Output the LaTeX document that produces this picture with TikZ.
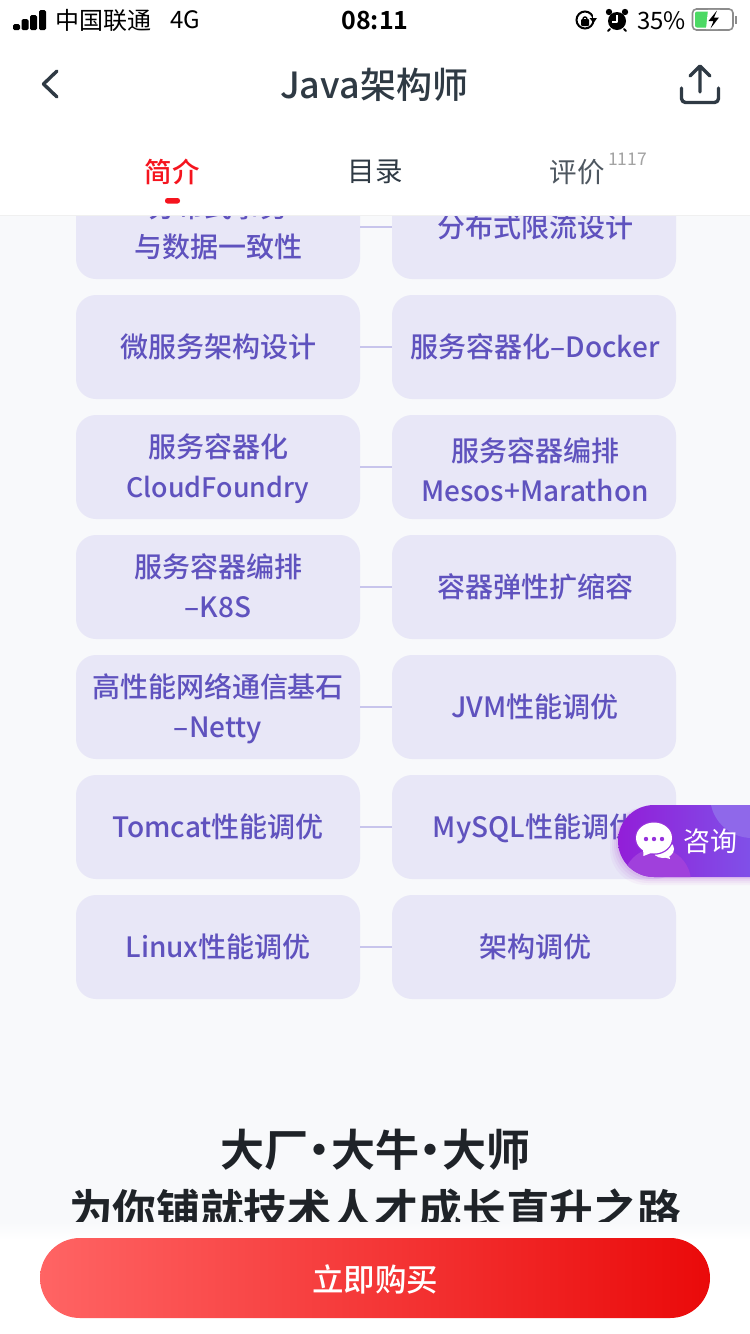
\documentclass[tikz,border=0pt]{standalone}
\usepackage{fontspec}
\setmainfont{Noto Sans CJK SC}
\newfontfamily\medfont{Noto Sans CJK SC Medium}
\newfontfamily\boldfnt{Noto Sans CJK SC Bold}
\usetikzlibrary{calc}
\definecolor{pagebg}{HTML}{F8F9FB}
\definecolor{cellbg}{HTML}{E8E7F7}
\definecolor{celltx}{HTML}{5F52BE}
\definecolor{cellln}{HTML}{C8C5EC}
\definecolor{ink}{HTML}{2F3A44}
\definecolor{redtab}{HTML}{F5141E}
\definecolor{graytx}{HTML}{A3A3A3}
\definecolor{dark}{HTML}{1F2328}
\definecolor{fabA}{HTML}{921ED8}
\definecolor{fabB}{HTML}{8050E8}
\definecolor{fabC}{HTML}{8F68EA}
\definecolor{fabD}{HTML}{A040DC}
\definecolor{fabE}{HTML}{9632DC}
\definecolor{fabS}{HTML}{AA3CD2}
\tikzset{
  cell/.style={draw=none,fill=cellbg,rounded corners=20pt,minimum width=284pt,minimum height=104pt,inner sep=0pt,outer sep=0pt},
  celltext/.style={text=celltx,font=\medfont\fontsize{28}{40}\selectfont,align=center,inner sep=0pt},
  link/.style={draw=cellln,line width=1.5pt,yshift=-0.7pt},
  plain/.style={inner sep=0pt,outer sep=0pt},
  iconline/.style={draw=ink,line width=3.4pt,line cap=round,line join=round},
}
\newcommand{\cs}{\rule[-9.5pt]{0pt}{40pt}}
\newcommand{\cellpair}[6]{%
  \node[cell] (#1L) at (218,#2) {};
  \node[cell] (#1R) at (534,#2) {};
  \draw[link] (#1L.east) -- (#1R.west);
  \node[celltext] (#1Lt) at ($(#1L.center)+(0,#5)$) {#3};
  \node[celltext] (#1Rt) at ($(#1R.center)+(1,#6)$) {#4};
}
\begin{document}
\begin{tikzpicture}[x=1pt,y=-1pt]
\useasboundingbox (0,0) rectangle (750,1334);
\fill[pagebg] (0,0) rectangle (750,1334);

\cellpair{a}{227}{\cs 分布式事务\\\cs 与数据一致性}{\cs 分布式限流设计}{0}{0}
\cellpair{b}{347}{\cs 微服务架构设计}{\cs 服务容器化–Docker}{0}{0}
\cellpair{c}{467}{\cs 服务容器化\\\cs {\fontsize{26.8}{40}\selectfont CloudFoundry}}{\cs 服务容器编排\\\cs Mesos+Marathon}{0}{4}
\cellpair{d}{587}{\cs 服务容器编排\\\cs –K8S}{\cs 容器弹性扩缩容}{0}{0}
\cellpair{e}{707}{\cs 高性能网络通信基石\\\cs –Netty}{\cs JVM性能调优}{0}{0}
\cellpair{f}{827}{\cs Tomcat性能调优}{\cs MySQL性能调优}{0}{0}
\cellpair{g}{947}{\cs Linux性能调优}{\cs 架构调优}{0}{0}

% heading
\node[plain,text=dark,font=\boldfnt\fontsize{44}{44}\selectfont] (h1) at (375,1150) {大厂\hspace{-10.5pt}·\hspace{-10.5pt}大牛\hspace{-10.5pt}·\hspace{-10.5pt}大师};
\node[plain,text=dark,font=\boldfnt\fontsize{43.7}{44}\selectfont] (h2) at (375,1210) {为你铺就技术人才成长直升之路};

% bottom bar
\shade[top color=pagebg,bottom color=white] (0,1222) rectangle (750,1240);
\fill[white] (0,1240) rectangle (750,1334);
\node[plain,minimum width=670pt,minimum height=80pt,rounded corners=40pt,left color={rgb,255:red,255;green,100;blue,100},right color={rgb,255:red,234;green,10;blue,10}] (buy) at (375,1278) {};
\node[plain,text=white,font=\medfont\fontsize{31.5}{32}\selectfont] (buyt) at (375,1279) {立即购买};

% header
\fill[white] (0,0) rectangle (750,215);
\draw[color=black!6,line width=1pt] (0,215.5) -- (750,215.5);

% status bar
\foreach \xx/\yy in {13/24,21.5/19,30/15,39/10}{
  \fill[black,rounded corners=1.5pt] (\xx,\yy) rectangle (\xx+7,30);
}
\node[plain,text=black,font=\fontsize{24}{24}\selectfont,anchor=west] (carrier) at (55,20) {中国联通};
\node[plain,text=black,font=\fontsize{24}{24}\selectfont,anchor=west] (net) at (170,20) {4G};
\node[plain,text=black,font=\boldfnt\fontsize{25}{26}\selectfont] (clock) at (375,20) {08:11};
% rotation lock
\draw[black,line width=2pt] (585,20) circle (8.5pt);
\fill[white] (593,14) rectangle (597,21);
\fill[black] (589.5,18) -- (597,18) -- (593.5,23) -- cycle;
\fill[black,rounded corners=1pt] (581,19) rectangle (589,26);
\draw[black,line width=1.4pt] (583,19) arc (180:0:2pt);
% alarm
\fill[black] (617,21) circle (9pt);
\fill[black] (609,12) circle (3.2pt);
\fill[black] (625,12) circle (3.2pt);
\draw[black,line width=2pt,line cap=round] (610,29) -- (608,31) (624,29) -- (626,31);
\draw[white,line width=1.4pt,line join=round] (617,15) -- (617,22) -- (612,22);
\node[plain,text=black,font=\fontsize{24}{26}\selectfont,anchor=west] (pct) at (637,21) {35\%};
% battery
\draw[draw=black!45,line width=1.6pt,rounded corners=4pt] (692.5,9) rectangle (733,30);
\fill[black!45] (735,15.5) rectangle (737,24);
\fill[color={rgb,255:red,76;green,217;blue,100},rounded corners=2pt] (695,11.5) rectangle (710,27.5);
\fill[white] (708,9.8) -- (720,9.8) -- (718,29) -- (706,29) -- cycle;
\fill[black] (717,10.5) -- (708.5,21) -- (713.5,21) -- (710.5,28.5) -- (719,17.5) -- (714,17.5) -- cycle;

% nav bar
\draw[draw=ink,line width=3.4pt,line cap=round,line join=round] (57,71) -- (43.5,84) -- (57,97);
\node[plain,text=ink,font=\medfont\fontsize{36}{36}\selectfont] (title) at (374,85) {Java架构师};
\draw[iconline] (700,92) -- (700,67) (690,76) -- (700,66) -- (710,76);
\draw[iconline,rounded corners=4pt] (681.5,88) -- (681.5,102.5) -- (718.5,102.5) -- (718.5,88);

% tabs
\node[plain,text=redtab,font=\medfont\fontsize{27.5}{28}\selectfont] (tab1) at (172,172) {简介};
\fill[redtab,rounded corners=2.5pt] (165,198) rectangle (180,203.5);
\node[plain,text=ink,font=\fontsize{27.5}{28}\selectfont] (tab2) at (375,172) {目录};
\node[plain,text=ink!85,font=\fontsize{27.5}{28}\selectfont] (tab3) at (577,172) {评价};
\node[plain,text=graytx,font=\fontsize{17.5}{20}\selectfont,anchor=west] (cnt) at (608,159) {1117};

% consult button
\foreach \k/\o in {8/0.05,6/0.06,4/0.08,2/0.1}{
  \fill[fabS,opacity=\o,rounded corners=36pt] (618-\k,807) rectangle (800,877+\k);
}
\begin{scope}
\clip[rounded corners=36pt] (618,805) rectangle (800,877);
\shade[left color=fabA,right color=fabB] (618,805) rectangle (750,877);
\fill[fabC] (752,796) circle (42pt);
\fill[fabD] (657,882) circle (34pt);
\end{scope}
\fill[white] (663,849) ellipse (11pt and 9pt);
\fill[white] (670,859) -- (660,856) -- (668,851) -- cycle;
\fill[fabE] (654,838) ellipse (19.3pt and 16.8pt);
\fill[white] (654,838) ellipse (18pt and 15.5pt);
\fill[white] (643,848) -- (643.5,856) -- (656,851) -- cycle;
\foreach \dx in {646,654,662}{\fill[fabE] (\dx,839) circle (2.2pt);}
\node[plain,text=white,font=\fontsize{27}{27}\selectfont,anchor=west] (fabt) at (683,841) {咨询};
\end{tikzpicture}
\end{document}
